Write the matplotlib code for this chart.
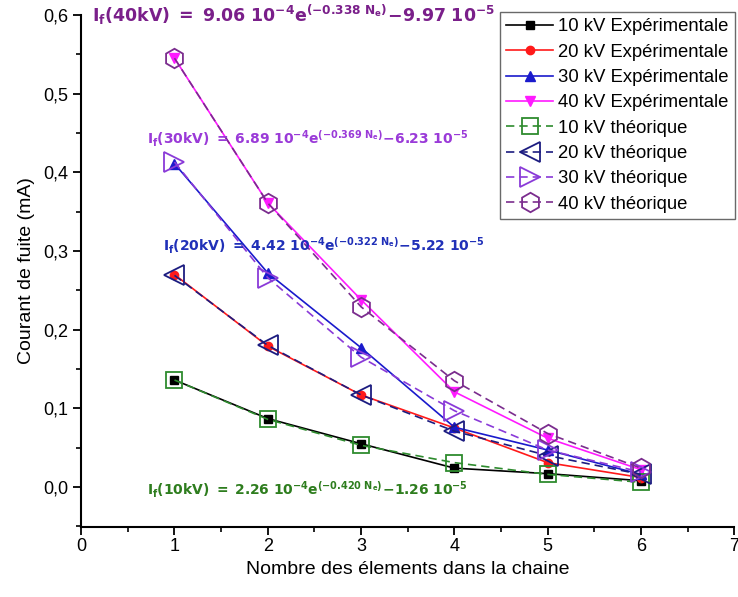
import numpy as np
import matplotlib
matplotlib.use('Agg')
import matplotlib.pyplot as plt
from matplotlib.ticker import MultipleLocator, FixedLocator, FixedFormatter

plt.rcParams['font.family'] = ['Liberation Sans', 'DejaVu Sans']
plt.rcParams['mathtext.fontset'] = 'dejavusans'

#====================
# Data
#====================

n_elements = [1, 2, 3, 4, 5, 6]

exp_10kv = [0.136, 0.087, 0.055, 0.024, 0.017, 0.008]
exp_20kv = [0.270, 0.179, 0.117, 0.075, 0.031, 0.012]
exp_30kv = [0.411, 0.272, 0.177, 0.076, 0.047, 0.016]
exp_40kv = [0.545, 0.361, 0.238, 0.121, 0.062, 0.022]

theo_10kv = [0.136, 0.086, 0.053, 0.031, 0.016, 0.006]
theo_20kv = [0.269, 0.180, 0.117, 0.071, 0.040, 0.016]
theo_30kv = [0.413, 0.266, 0.165, 0.097, 0.047, 0.019]
theo_40kv = [0.545, 0.361, 0.229, 0.135, 0.068, 0.024]

y_ticks = [0.0, 0.1, 0.2, 0.3, 0.4, 0.5, 0.6]
y_tick_labels = ['0,0', '0,1', '0,2', '0,3', '0,4', '0,5', '0,6']
x_ticks = [0, 1, 2, 3, 4, 5, 6, 7]

fit_labels = [
    r'$\mathbf{I_f(40kV)\ =\ 9.06\ 10^{-4}e^{(-0.338\ N_e)}\!-\!9.97\ 10^{-5}}$',
    r'$\mathbf{I_f(30kV)\ =\ 6.89\ 10^{-4}e^{(-0.369\ N_e)}\!-\!6.23\ 10^{-5}}$',
    r'$\mathbf{I_f(20kV)\ =\ 4.42\ 10^{-4}e^{(-0.322\ N_e)}\!-\!5.22\ 10^{-5}}$',
    r'$\mathbf{I_f(10kV)\ =\ 2.26\ 10^{-4}e^{(-0.420\ N_e)}\!-\!1.26\ 10^{-5}}$',
]

#====================
# Figure
#====================

fig = plt.figure(figsize=(7.38, 5.97), dpi=100)
ax = fig.add_axes([0.110, 0.117, 0.885, 0.858])

# experimental curves: solid lines, small filled markers
ax.plot(n_elements, exp_10kv, '-', color='black', marker='s', ms=6, lw=1.2,
        label='10 kV Expérimentale')
ax.plot(n_elements, exp_20kv, '-', color='#ff1a1a', marker='o', ms=6, lw=1.2,
        label='20 kV Expérimentale')
ax.plot(n_elements, exp_30kv, '-', color='#1a1acc', marker='^', ms=7, lw=1.2,
        label='30 kV Expérimentale')
ax.plot(n_elements, exp_40kv, '-', color='#ff1aff', marker='v', ms=7, lw=1.2,
        label='40 kV Expérimentale')

# theoretical curves: dashed lines, large open markers
ax.plot(n_elements, theo_10kv, '--', color='#2e8b2e', marker='s', ms=12, lw=1.2,
        mfc='none', mew=1.3, dashes=(5, 3), label='10 kV théorique')
ax.plot(n_elements, theo_20kv, '--', color='#1c1c80', marker='<', ms=14, lw=1.2,
        mfc='none', mew=1.3, dashes=(5, 3), label='20 kV théorique')
ax.plot(n_elements, theo_30kv, '--', color='#8a3ad8', marker='>', ms=14, lw=1.2,
        mfc='none', mew=1.3, dashes=(5, 3), label='30 kV théorique')
ax.plot(n_elements, theo_40kv, '--', color='#7b2d8e', marker='h', ms=14, lw=1.2,
        mfc='none', mew=1.3, dashes=(5, 3), label='40 kV théorique')

# fitted equations
ax.text(0.12, 0.60, fit_labels[0], color='#7a1f8a', fontsize=12.5, va='center')
ax.text(0.71, 0.443, fit_labels[1], color='#9a3ad8', fontsize=10, va='center')
ax.text(0.88, 0.307, fit_labels[2], color='#2030b8', fontsize=10, va='center')
ax.text(0.71, -0.004, fit_labels[3], color='#2e7d1e', fontsize=10, va='center')

#====================
# Axes styling
#====================

ax.set_xlim(0, 7)
ax.set_ylim(-0.051, 0.6)
ax.spines['top'].set_visible(False)
ax.spines['right'].set_visible(False)
ax.spines['left'].set_bounds(-0.051, 0.6)
for side in ['left', 'bottom']:
    ax.spines[side].set_linewidth(1.5)

ax.xaxis.set_major_locator(FixedLocator(x_ticks))
ax.xaxis.set_minor_locator(MultipleLocator(0.5))
ax.yaxis.set_major_locator(FixedLocator(y_ticks))
ax.yaxis.set_major_formatter(FixedFormatter(y_tick_labels))
ax.yaxis.set_minor_locator(FixedLocator([-0.05, 0.05, 0.15, 0.25, 0.35, 0.45, 0.55]))
ax.tick_params(which='major', direction='out', length=6, width=1.3, labelsize=13)
ax.tick_params(axis='x', which='major', pad=2)
ax.tick_params(which='minor', direction='out', length=3.5, width=1.2)

ax.set_xlabel('Nombre des élements dans la chaine', fontsize=14, labelpad=4)
ax.set_ylabel('Courant de fuite (mA)', fontsize=14, labelpad=6)

leg = ax.legend(loc='upper left', bbox_to_anchor=(500 / 738, 1 - 12 / 597),
                bbox_transform=fig.transFigure, fontsize=13.3, frameon=True,
                fancybox=False, edgecolor='#444444', handlelength=2.5,
                handletextpad=0.3, labelspacing=0.45, borderpad=0.35,
                borderaxespad=0)
leg.get_frame().set_linewidth(1.0)

fig.savefig('out.png', dpi=100)
